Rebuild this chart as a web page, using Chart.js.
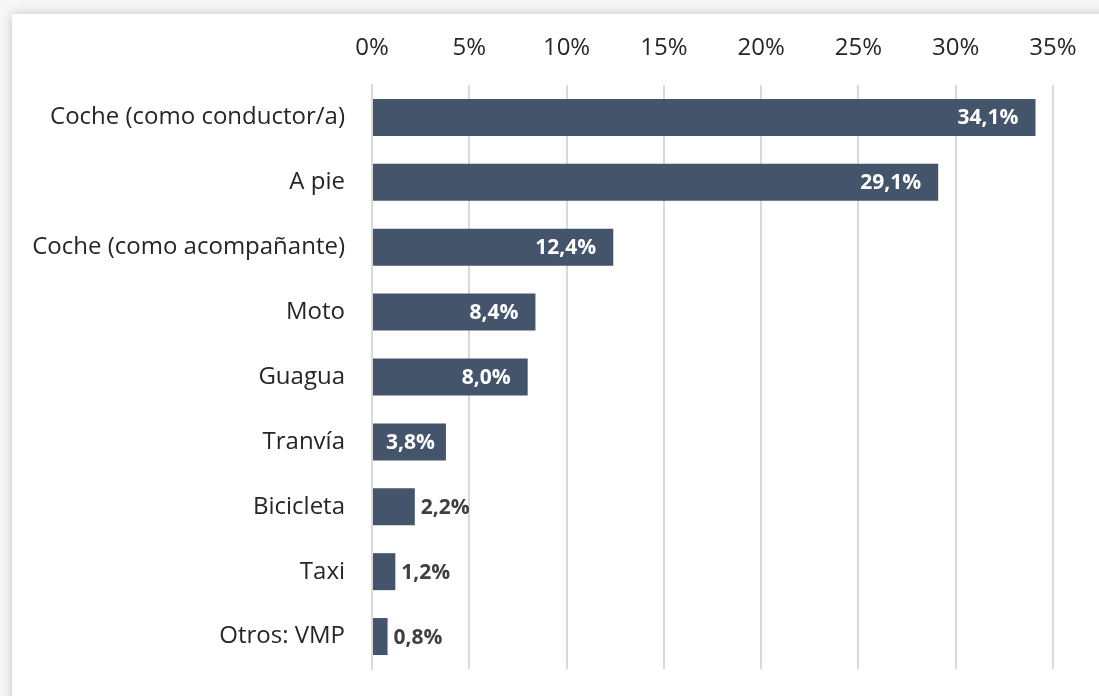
<!DOCTYPE html>
<html lang="es">
<head>
<meta charset="utf-8">
<script src="https://cdn.jsdelivr.net/npm/chart.js@4"></script>
<style>
    html, body { margin: 0; padding: 0; }
    body {
        width: 1099px;
        height: 696px;
        overflow: hidden;
        background: #f7f7f7;
        position: relative;
    }
    .card {
        position: absolute;
        left: 12px;
        top: 14px;
        right: -20px;
        bottom: -20px;
        background: #ffffff;
        box-shadow: 0 0 12px rgba(0, 0, 0, 0.2);
    }
    .chart-wrap {
        position: absolute;
        left: 0;
        top: 0;
        width: 1099px;
        height: 696px;
    }
</style>
</head>
<body>
<div class="card"></div>
<div class="chart-wrap"><canvas id="modosChart"></canvas></div>
<script>
// ── Data ────────────────────────────────────────────────
const categories = [
    'Coche (como conductor/a)',
    'A pie',
    'Coche (como acompañante)',
    'Moto',
    'Guagua',
    'Tranvía',
    'Bicicleta',
    'Taxi',
    'Otros: VMP'
];
const shares = [34.1, 29.1, 12.4, 8.4, 8.0, 3.8, 2.2, 1.2, 0.8];
const axisTicks = [0, 5, 10, 15, 20, 25, 30, 35];

const FONT = '"Open Sans", "Noto Sans", sans-serif';
const BAR_COLOR = '#44546a';

const fmt = v => v.toFixed(1).replace('.', ',') + '%';

// ── Value labels (inside end for long bars, outside for short ones) ──
const valueLabels = {
    id: 'valueLabels',
    afterDatasetsDraw(chart) {
        const { ctx } = chart;
        const meta = chart.getDatasetMeta(0);
        ctx.save();
        ctx.font = 'bold 21px ' + FONT;
        ctx.textBaseline = 'middle';
        meta.data.forEach((bar, i) => {
            const v = shares[i];
            const text = fmt(v);
            if (v >= 3) {
                const w = ctx.measureText(text).width;
                ctx.fillStyle = '#ffffff';
                if (bar.x - 17 - w < bar.base + 15) {
                    // too short to sit at the end: centre it in the bar
                    ctx.textAlign = 'center';
                    ctx.fillText(text, (bar.base + bar.x) / 2 + 1, bar.y + 1);
                } else {
                    ctx.textAlign = 'right';
                    ctx.fillText(text, bar.x - 17, bar.y + 1);
                }
            } else {
                ctx.fillStyle = '#404040';
                ctx.textAlign = 'left';
                ctx.fillText(text, bar.x + 6, bar.y + 1);
            }
        });
        ctx.restore();
    }
};

new Chart(document.getElementById('modosChart'), {
    type: 'bar',
    data: {
        labels: categories,
        datasets: [{
            data: shares,
            backgroundColor: BAR_COLOR,
            borderWidth: 0,
            categoryPercentage: 1,
            barPercentage: 0.57
        }]
    },
    options: {
        indexAxis: 'y',
        responsive: true,
        maintainAspectRatio: false,
        animation: false,
        layout: { padding: { left: 0, right: 46, top: 0, bottom: 27 } },
        plugins: {
            legend: { display: false },
            tooltip: { enabled: false }
        },
        scales: {
            x: {
                position: 'top',
                min: 0,
                max: 35,
                afterBuildTicks: scale => {
                    scale.ticks = axisTicks.map(v => ({ value: v }));
                },
                afterFit: scale => { scale.height = 85; },
                grid: { color: '#d9d9d9', lineWidth: 2, drawTicks: false },
                border: { display: false },
                ticks: {
                    padding: 22,
                    color: '#262626',
                    font: { family: FONT, size: 24 },
                    callback: v => v + '%'
                }
            },
            y: {
                afterFit: scale => {
                    scale.width = 372;
                    scale.paddingTop = 0;
                    scale.paddingBottom = 0;
                },
                grid: { display: false, drawTicks: false },
                border: { color: '#d9d9d9', width: 2 },
                ticks: {
                    padding: 27,
                    color: '#262626',
                    font: { family: FONT, size: 24 }
                }
            }
        }
    },
    plugins: [valueLabels]
});
</script>
</body>
</html>
